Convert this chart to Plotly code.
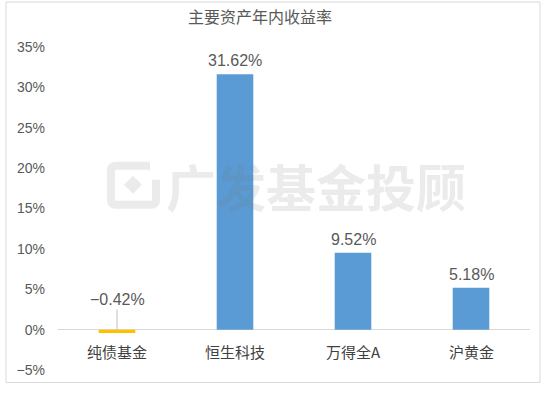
import plotly.graph_objects as go

categories = ["纯债基金", "恒生科技", "万得全A", "沪黄金"]
values = [-0.42, 31.62, 9.52, 5.18]
colors = ["#FFC000", "#5B9BD5", "#5B9BD5", "#5B9BD5"]
tick_vals = [-5, 0, 5, 10, 15, 20, 25, 30, 35]
tick_text = ["−5%", "0%", "5%", "10%", "15%", "20%", "25%", "30%", "35%"]
title_text = "主要资产年内收益率"
watermark = "广发基金投顾"

CJK = "Noto Sans CJK SC"
NUM = "Liberation Sans, Noto Sans CJK SC"
WM = "rgba(110,110,110,0.14)"

L, T, PW, PH = 58, 47, 472, 323.5
def px(x):
    return (x - L) / PW
def py(y):
    return (T + PH - y) / PH

fig = go.Figure()
fig.add_trace(go.Bar(x=categories, y=values, marker=dict(color=colors, line=dict(width=0)),
                     width=0.31, hoverinfo="skip"))

def fmt(v):
    s = f"{abs(v):.2f}%"
    return ("−" + s) if v < 0 else s

annotations = []
for c, v in zip(categories, values):
    if v >= 0:
        annotations.append(dict(x=c, y=v, text=fmt(v), showarrow=False, yanchor="bottom", yshift=3,
                                font=dict(family=NUM, size=16, color="#595959")))
    else:
        annotations.append(dict(x=c, y=0, text=fmt(v), showarrow=True, ax=0, ay=-30,
                                arrowhead=0, arrowwidth=1, arrowcolor="#bfbfbf", standoff=0,
                                font=dict(family=NUM, size=16, color="#595959")))
    annotations.append(dict(x=c, y=0, text=c, showarrow=False, yanchor="top", yshift=-9,
                            font=dict(family=CJK, size=15, color="#404040")))

annotations.append(dict(xref="paper", yref="paper", x=px(316), y=py(185),
                        text="<b>" + watermark + "</b>", showarrow=False,
                        font=dict(family=CJK, size=50, color=WM)))

shapes = [dict(type="rect", xref="paper", yref="paper",
               x0=px(6), x1=px(540), y0=py(383), y1=py(2),
               line=dict(color="#d9d9d9", width=1), layer="below")]
# watermark logo: rounded square outline with a diamond inside
shapes.append(dict(type="path", xref="paper", yref="paper", layer="above",
                   path=(f"M {px(150)},{py(166)} L {px(116)},{py(166)} Q {px(111)},{py(166)} {px(111)},{py(171)} "
                         f"L {px(111)},{py(200)} Q {px(111)},{py(205)} {px(116)},{py(205)} "
                         f"L {px(151)},{py(205)} Q {px(156)},{py(205)} {px(156)},{py(200)} L {px(156)},{py(180)}"),
                   line=dict(color=WM, width=8), fillcolor="rgba(0,0,0,0)"))
shapes.append(dict(type="path", xref="paper", yref="paper", layer="above",
                   path=(f"M {px(133)},{py(176)} L {px(142)},{py(185)} L {px(133)},{py(194)} "
                         f"L {px(124)},{py(185)} Z"),
                   line=dict(width=0), fillcolor=WM))

fig.update_layout(
    width=550, height=393,
    margin=dict(l=58, r=20, t=47, b=22.5),
    paper_bgcolor="white", plot_bgcolor="rgba(0,0,0,0)",
    showlegend=False,
    title=dict(text=title_text, x=260 / 550, xanchor="center", y=1 - 17 / 393, yanchor="middle",
               font=dict(family=CJK, size=16, color="#595959")),
    xaxis=dict(showticklabels=False, showgrid=False, zeroline=False, showline=False, ticks=""),
    yaxis=dict(range=[-5, 35], tickvals=tick_vals, ticktext=tick_text, showgrid=False,
               zeroline=True, zerolinecolor="#d9d9d9", zerolinewidth=1, showline=False,
               ticks="", ticklabelstandoff=12,
               tickfont=dict(family=NUM, size=14, color="#595959")),
    annotations=annotations,
    shapes=shapes,
)

fig.write_html("out.html")
